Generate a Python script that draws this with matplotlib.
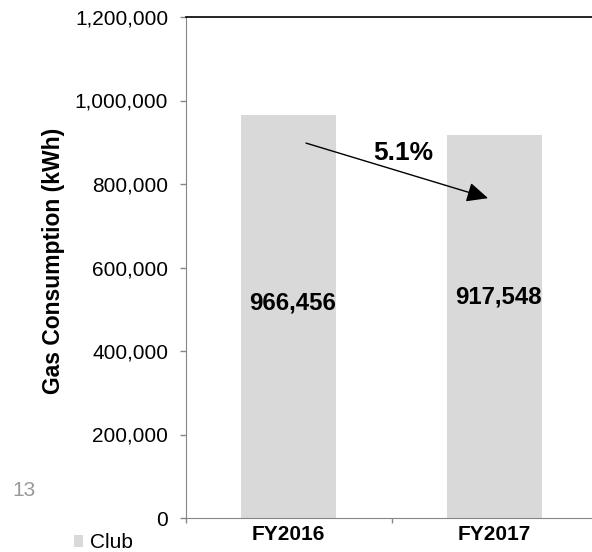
import matplotlib
matplotlib.use("Agg")
import matplotlib.pyplot as plt
from matplotlib.ticker import FuncFormatter, FixedLocator

plt.rcParams['font.family'] = ['Liberation Sans', 'DejaVu Sans']

# datos del consumo de gas por año fiscal
years = ['FY2016', 'FY2017']
gas_kwh = [966456, 917548]
series_name = 'Club'
page_number = '13'

bar_color = '#d9d9d9'
axis_gray = '#868686'

fig = plt.figure(figsize=(5.92, 5.52), dpi=100)
ax = fig.add_axes([186/592, 1 - 518/552, 411/592, 501/552])

x = list(range(len(years)))
ax.bar(x, gas_kwh, width=0.46, color=bar_color, label=series_name, zorder=2)

ax.set_xlim(-0.5, len(years) - 0.5)
ax.set_ylim(0, 1200000)
ax.set_yticks(range(0, 1200001, 200000))
ax.yaxis.set_major_formatter(FuncFormatter(lambda v, p: f"{int(v):,}"))
ax.tick_params(axis='y', labelsize=15, length=4.3, pad=8.6, color=axis_gray, width=1)

# marcas en los limites de categoria, etiquetas en el centro
ax.xaxis.set_major_locator(FixedLocator([i - 0.5 for i in range(len(years) + 1)]))
ax.xaxis.set_minor_locator(FixedLocator(x))
ax.set_xticklabels([], minor=False)
ax.set_xticklabels(years, minor=True, fontsize=15, fontweight='bold')
ax.tick_params(axis='x', which='major', length=3.6, color=axis_gray, width=1, direction='out')
ax.tick_params(axis='x', which='minor', length=0, pad=5)

ax.spines['right'].set_visible(False)
ax.spines['left'].set_color(axis_gray)
ax.spines['bottom'].set_color(axis_gray)
ax.spines['top'].set_color('black')
ax.spines['top'].set_linewidth(1.2)

ax.set_ylabel('Gas Consumption (kWh)', fontsize=16.5, fontweight='bold')
ax.yaxis.set_label_coords(-0.294, 0.513)

# valores dentro de las barras
label_y = [515000, 529000]
for i, v in enumerate(gas_kwh):
    ax.text(i + 0.02, label_y[i], f"{v:,}", ha='center', va='center',
            fontsize=17.3, fontweight='bold', zorder=3)

# flecha con la reduccion porcentual
pct = (gas_kwh[0] - gas_kwh[1]) / gas_kwh[0] * 100
ax.annotate('', xy=(0.97, 766000), xytext=(0.084, 898000),
            arrowprops=dict(arrowstyle='-|>,head_length=0.65,head_width=0.3',
                            color='black', lw=1, mutation_scale=20,
                            shrinkA=0, shrinkB=0), zorder=4)
ax.text(0.556, 874000, f"{pct:.1f}%", ha='center', va='center',
        fontsize=19, fontweight='bold', zorder=4)

fig.text(12/592, 1 - 490/552, page_number, fontsize=15, color='#999999',
         ha='left', va='center')

fig.legend(loc='center left', bbox_to_anchor=(74/592, 1 - 543/552), frameon=False,
           fontsize=15, handlelength=0.45, handleheight=0.5, handletextpad=0.3,
           borderpad=0, borderaxespad=0)

fig.savefig('out.png', dpi=100)
